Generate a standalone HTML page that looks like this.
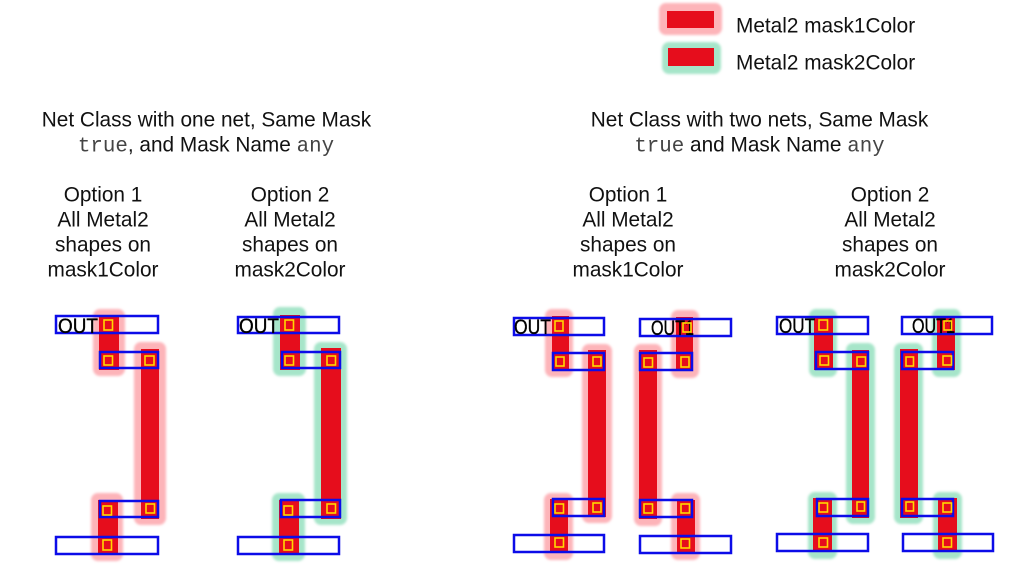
<!DOCTYPE html>
<html><head><meta charset="utf-8"><style>
html,body{margin:0;padding:0;background:#fff}
svg{display:block}
text{font-family:"Liberation Sans",sans-serif;font-size:20.8px;fill:#111}
.c{text-anchor:middle}
.t{font-family:"Liberation Mono",monospace;font-size:20.8px;fill:#444}
.o{font-size:21px;fill:#000;stroke:#000;stroke-width:.35}
.h1{fill:#fdb4b9}.h2{fill:#a6e5c9}
.m{fill:#e60d1c}
.p{fill:none;stroke:#0c0ce8;stroke-width:2.5}
.s{fill:none;stroke:#ffd800;stroke-width:1.6}
</style></head><body>
<svg width="1013" height="576" viewBox="0 0 1013 576" xmlns="http://www.w3.org/2000/svg">
<defs><filter id="b" x="-20%" y="-20%" width="140%" height="140%"><feGaussianBlur stdDeviation="1.2"/></filter></defs>

<!-- legend -->
<rect class="h1" filter="url(#b)" x="659" y="3" width="63" height="32" rx="7"/>
<rect class="m" x="667" y="11" width="47" height="17"/>
<rect class="h2" filter="url(#b)" x="662" y="42" width="59" height="32" rx="7"/>
<rect class="m" x="668" y="48" width="46" height="18"/>
<text x="736" y="32.500">Metal2 mask1Color</text>
<text x="736" y="69.500">Metal2 mask2Color</text>

<!-- headings -->
<text class="c" x="206.500" y="126.700">Net Class with one net, Same Mask</text>
<text class="c" x="206" y="151.700"><tspan class="t">true</tspan>, and Mask Name <tspan class="t">any</tspan></text>
<text class="c" x="759.500" y="126.700">Net Class with two nets, Same Mask</text>
<text class="c" x="759.500" y="151.700"><tspan class="t">true</tspan> and Mask Name <tspan class="t">any</tspan></text>

<text class="c" x="103" y="201.700">Option 1</text>
<text class="c" x="103" y="226.700">All Metal2</text>
<text class="c" x="103" y="251.700">shapes on</text>
<text class="c" x="103" y="276.700">mask1Color</text>
<text class="c" x="290" y="201.700">Option 2</text>
<text class="c" x="290" y="226.700">All Metal2</text>
<text class="c" x="290" y="251.700">shapes on</text>
<text class="c" x="290" y="276.700">mask2Color</text>
<text class="c" x="628" y="201.700">Option 1</text>
<text class="c" x="628" y="226.700">All Metal2</text>
<text class="c" x="628" y="251.700">shapes on</text>
<text class="c" x="628" y="276.700">mask1Color</text>
<text class="c" x="890" y="201.700">Option 2</text>
<text class="c" x="890" y="226.700">All Metal2</text>
<text class="c" x="890" y="251.700">shapes on</text>
<text class="c" x="890" y="276.700">mask2Color</text>

<!-- group 1 -->
<g class="h1" filter="url(#b)">
<rect x="93" y="309" width="32" height="67" rx="7"/>
<rect x="134" y="342" width="32" height="183" rx="7"/>
<rect x="91" y="493" width="32" height="68" rx="7"/>
</g>
<rect class="m" x="99" y="315" width="20" height="55"/>
<rect class="m" x="141" y="349" width="18" height="170"/>
<rect class="m" x="98" y="500" width="20" height="54"/>
<rect class="p" x="56" y="316" width="102" height="17"/>
<rect class="p" x="100" y="352" width="58" height="16"/>
<rect class="p" x="100" y="501" width="58" height="16"/>
<rect class="p" x="56" y="537" width="102" height="17"/>
<text class="o" x="58" y="333" textLength="40" lengthAdjust="spacingAndGlyphs">OUT</text>
<rect class="s" x="104" y="320" width="8.500" height="10"/>
<rect class="s" x="104" y="356" width="8.500" height="9"/>
<rect class="s" x="145" y="356" width="9" height="9"/>
<rect class="s" x="103" y="506" width="8.500" height="9"/>
<rect class="s" x="146" y="504" width="8.500" height="9"/>
<rect class="s" x="103" y="540" width="8.500" height="10"/>

<!-- group 2 -->
<g class="h2" filter="url(#b)">
<rect x="273" y="307" width="33" height="69" rx="7"/>
<rect x="314" y="342" width="33" height="183" rx="7"/>
<rect x="272" y="493" width="33" height="68" rx="7"/>
</g>
<rect class="m" x="280" y="315" width="20" height="55"/>
<rect class="m" x="321" y="348" width="20" height="171"/>
<rect class="m" x="279" y="500" width="20" height="53"/>
<rect class="p" x="238" y="317" width="101" height="16"/>
<rect class="p" x="282" y="352" width="58" height="16"/>
<rect class="p" x="281" y="500" width="59" height="17"/>
<rect class="p" x="238" y="537" width="101" height="17"/>
<text class="o" x="239" y="333" textLength="40" lengthAdjust="spacingAndGlyphs">OUT</text>
<rect class="s" x="285" y="320" width="8.500" height="10"/>
<rect class="s" x="285" y="356" width="8.500" height="9"/>
<rect class="s" x="327" y="356" width="8.500" height="9"/>
<rect class="s" x="284" y="506" width="8.500" height="9"/>
<rect class="s" x="327" y="504" width="8.500" height="9"/>
<rect class="s" x="284" y="540" width="8.500" height="10"/>

<!-- group 3 -->
<g class="h1" filter="url(#b)">
<rect x="545" y="309" width="28" height="68" rx="7"/>
<rect x="582" y="344" width="30" height="179" rx="7"/>
<rect x="544" y="493" width="29" height="67" rx="7"/>
<rect x="671" y="310" width="28" height="68" rx="7"/>
<rect x="634" y="344" width="28" height="182" rx="7"/>
<rect x="671" y="493" width="29" height="67" rx="7"/>
</g>
<rect class="m" x="552" y="316" width="17" height="55"/>
<rect class="m" x="588" y="350" width="18" height="167"/>
<rect class="m" x="550" y="499" width="18" height="54"/>
<rect class="m" x="676" y="317" width="17" height="54"/>
<rect class="m" x="639" y="350" width="18" height="169"/>
<rect class="m" x="677" y="500" width="18" height="53"/>
<rect class="p" x="514" y="318" width="90" height="17"/>
<rect class="p" x="553" y="353" width="51" height="17"/>
<rect class="p" x="553" y="499" width="51" height="17"/>
<rect class="p" x="514" y="535" width="90" height="17"/>
<rect class="p" x="640" y="319" width="91" height="17"/>
<rect class="p" x="640" y="353" width="52" height="17"/>
<rect class="p" x="640" y="500" width="52" height="17"/>
<rect class="p" x="640" y="536" width="91" height="17"/>
<text class="o" x="514" y="334" textLength="37" lengthAdjust="spacingAndGlyphs">OUT</text>
<text class="o" x="651" y="335" textLength="43" lengthAdjust="spacingAndGlyphs">OUT1</text>
<rect class="s" x="555" y="321" width="8" height="10"/>
<rect class="s" x="556" y="357" width="8" height="9"/>
<rect class="s" x="593" y="357" width="8" height="9"/>
<rect class="s" x="683" y="323" width="8" height="9"/>
<rect class="s" x="644" y="358" width="8.500" height="9"/>
<rect class="s" x="681" y="357" width="8" height="10"/>
<rect class="s" x="555" y="504" width="8.500" height="9"/>
<rect class="s" x="593" y="503" width="8" height="9"/>
<rect class="s" x="555" y="538" width="8.500" height="9"/>
<rect class="s" x="644" y="504" width="8.500" height="9"/>
<rect class="s" x="681" y="504" width="8.500" height="9"/>
<rect class="s" x="681" y="539" width="8.500" height="9"/>

<!-- group 4 -->
<g class="h2" filter="url(#b)">
<rect x="809" y="309" width="28" height="68" rx="7"/>
<rect x="846" y="343" width="29" height="181" rx="7"/>
<rect x="808" y="492" width="29" height="67" rx="7"/>
<rect x="932" y="309" width="29" height="68" rx="7"/>
<rect x="894" y="343" width="29" height="181" rx="7"/>
<rect x="933" y="492" width="29" height="67" rx="7"/>
</g>
<rect class="m" x="814" y="316" width="19" height="54"/>
<rect class="m" x="852" y="350" width="17" height="168"/>
<rect class="m" x="813" y="498" width="19" height="54"/>
<rect class="m" x="937" y="316" width="18" height="54"/>
<rect class="m" x="900" y="349" width="18" height="169"/>
<rect class="m" x="938" y="498" width="19" height="54"/>
<rect class="p" x="777" y="317" width="91" height="17"/>
<rect class="p" x="816" y="352" width="52" height="17"/>
<rect class="p" x="817" y="499" width="51" height="17"/>
<rect class="p" x="777" y="534" width="91" height="17"/>
<rect class="p" x="902" y="317" width="90" height="17"/>
<rect class="p" x="902" y="352" width="51" height="17"/>
<rect class="p" x="902" y="499" width="51" height="17"/>
<rect class="p" x="903" y="534" width="90" height="17"/>
<text class="o" x="779" y="333" textLength="36" lengthAdjust="spacingAndGlyphs">OUT</text>
<text class="o" x="912" y="333" textLength="43" lengthAdjust="spacingAndGlyphs">OUT1</text>
<rect class="s" x="819" y="320" width="8.500" height="10"/>
<rect class="s" x="820" y="356" width="8.500" height="9"/>
<rect class="s" x="857" y="357" width="8.500" height="9"/>
<rect class="s" x="944" y="321" width="7.500" height="9"/>
<rect class="s" x="906" y="357" width="7.500" height="9"/>
<rect class="s" x="943" y="356" width="8.500" height="9"/>
<rect class="s" x="819" y="503" width="8.500" height="9"/>
<rect class="s" x="857" y="502" width="7.500" height="9"/>
<rect class="s" x="819" y="538" width="8.500" height="9"/>
<rect class="s" x="906" y="502" width="7.500" height="9"/>
<rect class="s" x="943" y="503" width="8.500" height="9"/>
<rect class="s" x="943" y="538" width="8.500" height="9"/>
</svg>
</body></html>
